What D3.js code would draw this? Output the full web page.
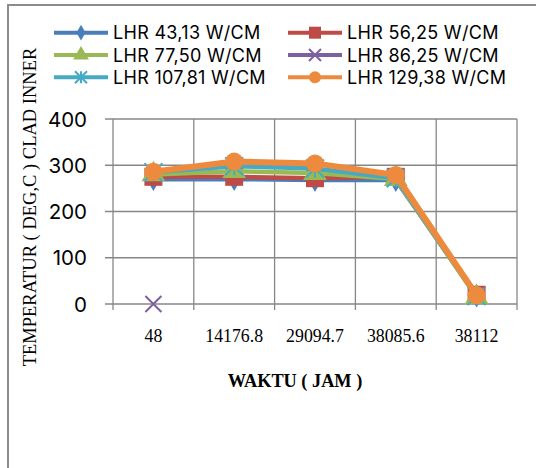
<!DOCTYPE html>
<html>
<head>
<meta charset="utf-8">
<script src="https://cdn.jsdelivr.net/npm/d3@7"></script>
<style>
  body { margin: 0; background: #fff; }
  svg { display: block; }
</style>
</head>
<body>
<div id="chart"></div>
<script>
// values
const waktu = ["48", "14176.8", "29094.7", "38085.6", "38112"];
const seriesNames = ["LHR 43,13 W/CM", "LHR 56,25 W/CM", "LHR 77,50 W/CM",
                     "LHR 86,25 W/CM", "LHR 107,81 W/CM", "LHR 129,38 W/CM"];
const lhr4313 = [270, 270, 268, 268, 18];
const lhr5625 = [275, 275, 272, 275, 20];
const lhr7750 = [280, 287, 283, 270, 15];
const lhr8625 = [0, null, null, null, null];
const lhr10781 = [285, 298, 293, 272, 17];
const lhr12938 = [286, 308, 304, 279, 19];
const yTicks = [0, 100, 200, 300, 400];

const colors = ["#4A7EBB", "#BE4B48", "#98B954", "#7D60A0", "#46AAC5", "#EE8A3E"];
const shapes = ["diamond", "square", "triangle", "cross", "star", "circle"];
const allSeries = [lhr4313, lhr5625, lhr7750, lhr8625, lhr10781, lhr12938];

const sans = "Inter, Liberation Sans, Arial, sans-serif";
const serif = "Liberation Serif, Times New Roman, serif";

const W = 536, H = 468;
const svg = d3.select("#chart").append("svg").attr("width", W).attr("height", H);

// chart frame (extends past the right and bottom edges)
svg.append("rect").attr("x", 8).attr("y", 5).attr("width", 600).attr("height", 600)
  .attr("fill", "none").attr("stroke", "#8c8c8c").attr("stroke-width", 2);

const x = d3.scaleBand().domain(waktu).range([113, 517]);
const y = d3.scaleLinear().domain([0, 400]).range([304, 119]);

// gridlines
const g = svg.append("g");
g.selectAll("line.h").data(yTicks).enter().append("line")
  .attr("x1", 105).attr("x2", 517)
  .attr("y1", d => y(d)).attr("y2", d => y(d))
  .attr("stroke", "#878787").attr("stroke-width", 1.3);
const vEdges = waktu.map(d => x(d)).concat([x.range()[1]]);
g.selectAll("line.v").data(vEdges).enter().append("line")
  .attr("x1", d => d).attr("x2", d => d)
  .attr("y1", 119).attr("y2", 310)
  .attr("stroke", "#878787").attr("stroke-width", 1.3);

// y tick labels
svg.selectAll("text.yt").data(yTicks).enter().append("text")
  .attr("x", 87).attr("y", d => y(d) + 7.5)
  .attr("text-anchor", "end")
  .attr("font-family", sans).attr("font-size", 20.5)
  .text(d => d);

// x tick labels
svg.selectAll("text.xt").data(waktu).enter().append("text")
  .attr("x", d => x(d) + x.bandwidth() / 2).attr("y", 342)
  .attr("text-anchor", "middle")
  .attr("font-family", serif).attr("font-size", 17.8)
  .text(d => d);

svg.append("text").attr("x", 295).attr("y", 387).attr("text-anchor", "middle")
  .attr("font-family", serif).attr("font-size", 18.3)
  .attr("font-weight", "bold").text("WAKTU ( JAM )");

svg.append("text").attr("transform", "translate(36,207) rotate(-90)")
  .attr("text-anchor", "middle")
  .attr("font-family", serif).attr("font-size", 18.5)
  .text("TEMPERATUR ( DEG,C ) CLAD INNER");

function marker(sel, shape, color, s) {
  if (shape === "cross" || shape === "star") {
    const r = s / 2;
    let p = `M${-r},${-r}L${r},${r}M${-r},${r}L${r},${-r}`;
    if (shape === "star") p += `M0,${-r}L0,${r}`;
    sel.append("path").attr("d", p).attr("stroke", color).attr("stroke-width", 2).attr("fill", "none");
    return;
  }
  const type = { diamond: d3.symbolDiamond, square: d3.symbolSquare,
                 triangle: d3.symbolTriangle, circle: d3.symbolCircle }[shape];
  const area = shape === "circle" ? Math.PI * s * s / 4 : shape === "diamond" ? s * s / 2 : s * s * 0.75;
  sel.append("path").attr("d", d3.symbol().type(type).size(shape === "square" ? s * s : area)())
    .attr("fill", color);
}

const line = d3.line()
  .defined(d => d != null)
  .x((d, i) => x(waktu[i]) + x.bandwidth() / 2)
  .y(d => y(d));

allSeries.forEach((vals, k) => {
  const sg = svg.append("g");
  sg.append("path").datum(vals).attr("d", line)
    .attr("fill", "none").attr("stroke", colors[k])
    .attr("stroke-width", k === 5 ? 6 : 4.5).attr("stroke-linejoin", "round");
  vals.forEach((v, i) => {
    if (v == null) return;
    const m = sg.append("g").attr("transform", `translate(${x(waktu[i]) + x.bandwidth() / 2},${y(v)})`);
    marker(m, shapes[k], colors[k], k === 3 ? 16 : 18);
  });
});

// legend
const legend = svg.append("g");
seriesNames.forEach((name, k) => {
  const col = k % 2, row = Math.floor(k / 2);
  const lx = col === 0 ? 54 : 288, ly = 32.7 + row * 22.3;
  const lg = legend.append("g");
  lg.append("line").attr("x1", lx).attr("x2", lx + 54).attr("y1", ly).attr("y2", ly)
    .attr("stroke", colors[k]).attr("stroke-width", 4);
  const m = lg.append("g").attr("transform", `translate(${lx + 27},${ly})`);
  marker(m, shapes[k], colors[k], 12);
  lg.append("text").attr("x", lx + 59).attr("y", ly + 6.5)
    .attr("font-family", sans).attr("font-size", 18).attr("letter-spacing", 0.3)
    .text(name);
});
</script>
</body>
</html>
